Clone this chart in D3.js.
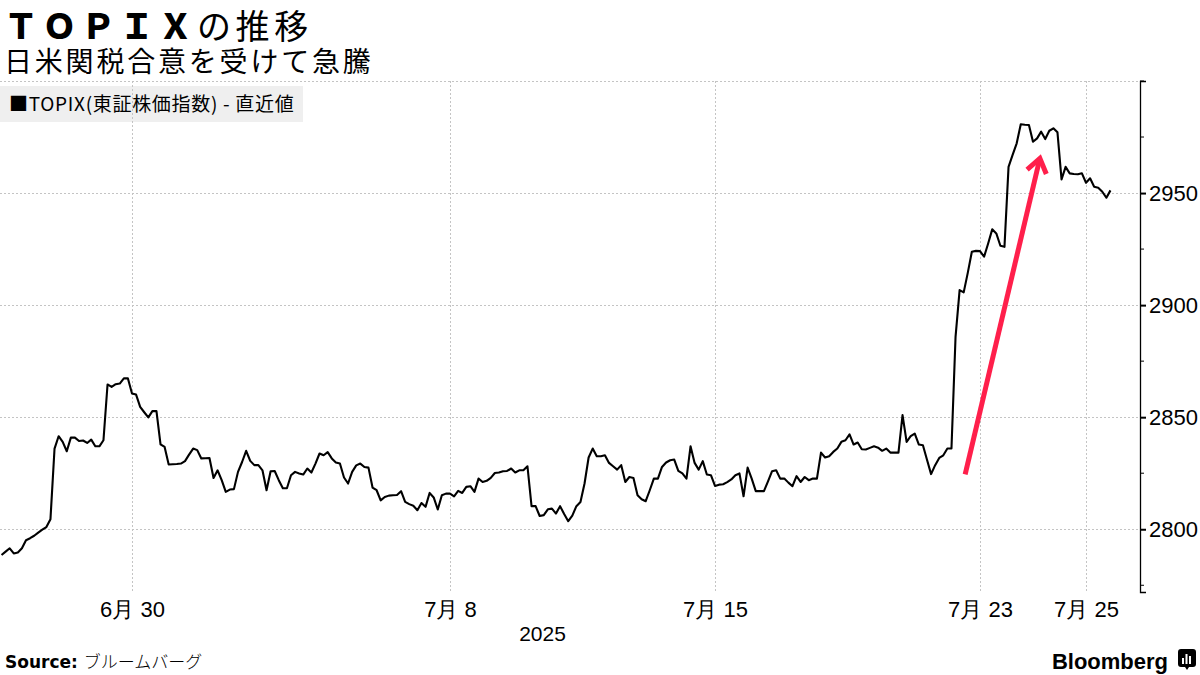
<!DOCTYPE html>
<html><head><meta charset="utf-8">
<script src="https://cdn.jsdelivr.net/npm/d3@7"></script>
<style>
body{margin:0;background:#fff;}
svg{display:block;font-family:"Noto Sans CJK JP","Noto Sans",sans-serif;}
</style>
</head><body><svg id="c" width="1200" height="675"></svg>
<script>
// ---- data ----
const tradingDays = ["6/26","6/27","6/30","7/1","7/2","7/3","7/4","7/7","7/8","7/9","7/10",
                     "7/11","7/14","7/15","7/16","7/17","7/18","7/22","7/23","7/24","7/25"];
const pointsPerDay = 13;
const tickDays   = ["6/30","7/8","7/15","7/23","7/25"];
const tickLabels = ["6月 30","7月 8","7月 15","7月 23","7月 25"];
const yTickValues = [2800,2850,2900,2950];
const yMinorTicks = [2775,2825,2875,2925,2975,3000];
const yearLabel = "2025";
// TOPIX intraday values, one row per trading day
const topix = [
 2788.5,2790,2791.5,2789.2,2789.6,2791.5,2795.1,2796,2797.1,2798.5,2799.8,2801,2804.5,
 2836,2841.5,2839,2834.8,2840.9,2840.9,2839.4,2839.6,2838.5,2840,2837,2837,2839.7,
 2864.6,2863.5,2864.7,2865,2867.3,2867.3,2860.6,2860.1,2854.6,2852.2,2849.9,2852.7,2852.7,
 2837.9,2836.7,2828.9,2829,2829.1,2829.3,2830.4,2833.3,2836,2835.3,2831.6,2831.7,2831.8,
 2822.9,2826.3,2821.9,2816.7,2817.7,2817.9,2825.6,2830,2835,2830.5,2828.6,2828.6,2826.3,
 2817.4,2825.9,2826,2821.9,2818.3,2818.3,2824.1,2825.6,2824.9,2824.4,2827.1,2825.3,2829.3,
 2833.8,2833,2834.4,2831.6,2829.8,2829.3,2823.1,2820.4,2825.6,2828.5,2829.3,2827.8,2827.5,
 2818.6,2817.4,2812.9,2814.4,2815,2815.2,2815.3,2817,2812.2,2811.2,2810.5,2808.5,2811.7,
 2810,2816.2,2814.2,2808.8,2815.2,2815.9,2815.9,2814.7,2817.1,2816.2,2818.9,2819.2,2816.7,
 2822.6,2821.1,2821.6,2822.9,2825.1,2825.3,2825.9,2826,2827.1,2825.3,2826.3,2826.3,2828.1,
 2810.3,2810.3,2805.9,2806.3,2808.9,2809.2,2807,2810.3,2806.8,2803.6,2806.1,2810.3,2812.2,
 2820.4,2832,2836,2832.6,2832.6,2833,2829.6,2828.1,2826.6,2828.6,2821.1,2823.3,2822.9,
 2815.2,2813.4,2812.5,2817.4,2822.6,2822.6,2827.8,2829.8,2830.8,2831.1,2826,2824.9,2822.6,
 2837,2829.6,2826.6,2830.4,2824.4,2824.1,2819.3,2819.9,2820.1,2821,2822.2,2824.1,2824.9,
 2814.7,2827.5,2822.6,2817,2817,2817,2821.4,2825.9,2826.3,2822.6,2822.6,2820.8,2819.2,
 2823.7,2821.1,2823.3,2821.9,2822.6,2822.6,2834.2,2832,2832.6,2834.5,2836,2839,2839.7,
 2842.3,2837.8,2838.7,2835.7,2835.6,2836.3,2837,2836.4,2835,2836,2834.2,2834.2,2834.2,
 2850.9,2839,2841.5,2842.7,2837.8,2837.5,2831,2824.6,2828.6,2831.8,2833,2836,2836,
 2885.8,2906.7,2905.7,2914.4,2923.8,2924.2,2924.1,2921.6,2927.5,2933.8,2932,2926.5,2926,
 2961.7,2967,2972.2,2980.7,2980.5,2980.4,2972.9,2974.4,2977.4,2974.1,2977.8,2978.9,2977.1,
 2956.1,2961.7,2958.8,2958.5,2958.4,2958.8,2954.6,2956.6,2952.8,2952.4,2950.6,2947.9,2951.2
];
// annotation arrow (in trading-day units / index values)
const arrowFrom = [18.22, 2824.5];
const arrowTo   = [19.63, 2965.5];

// ---- layout ----
const svg = d3.select("#c");
const plotTop = 81, plotBottom = 592, axisX = 1140;
const x = d3.scaleLinear().domain([0, tradingDays.length]).range([-0.5, 1112.5]);
const y = d3.scaleLinear().domain([2772, 3000]).range([plotBottom, plotTop]);

// title
const title = svg.append("text").attr("x", 4).attr("y", 39)
  .attr("font-size", 34).attr("letter-spacing", 4.6).attr("fill", "#000");
title.append("tspan").attr("font-weight", 900).text("ＴＯＰＩＸ");
title.append("tspan").attr("font-weight", 400).text("の推移");
svg.append("text").attr("x", 4).attr("y", 72).attr("font-size", 28)
  .attr("letter-spacing", 2.8).attr("fill", "#000").text("日米関税合意を受けて急騰");

// legend background
svg.append("rect").attr("x", 0).attr("y", 86).attr("width", 303).attr("height", 36).attr("fill", "#efefef");

// grid
const grid = svg.append("g").attr("stroke", "#c4c4c4").attr("stroke-width", 1).attr("stroke-dasharray", "2,2");
grid.selectAll("line.h").data(yTickValues.concat([3000])).enter().append("line")
  .attr("x1", 0).attr("x2", axisX).attr("y1", d => Math.round(y(d)) + 0.5).attr("y2", d => Math.round(y(d)) + 0.5);
const tickPos = tickDays.map(d => tradingDays.indexOf(d) + 0.5);
grid.selectAll("line.v").data(tickPos).enter().append("line")
  .attr("x1", d => Math.round(x(d)) + 0.5).attr("x2", d => Math.round(x(d)) + 0.5)
  .attr("y1", plotTop).attr("y2", plotBottom);

// legend text
svg.append("text").attr("x", 9).attr("y", 111).attr("font-size", 19).attr("letter-spacing", 0.7).attr("fill", "#000")
  .text("■TOPIX(東証株価指数) - 直近値");

// line
const line = d3.line()
  .x((d, i) => x((i + 0.5) / pointsPerDay))
  .y(d => y(d));
svg.append("path").datum(topix).attr("d", line)
  .attr("fill", "none").attr("stroke", "#000").attr("stroke-width", 2.1).attr("stroke-linejoin", "round");

// right axis
const yAxis = d3.axisRight(y).tickValues(yTickValues).tickSize(6).tickPadding(3).tickFormat(d3.format("d"));
const ga = svg.append("g").attr("transform", `translate(${axisX},0)`).call(yAxis);
ga.select(".domain").attr("stroke", "#000").attr("stroke-width", 1.3);
ga.selectAll("text").attr("font-size", 22).attr("font-family", "'Liberation Sans', Arial, sans-serif").attr("fill", "#000");
ga.selectAll(".tick line").attr("stroke", "#000").attr("stroke-width", 2);
ga.selectAll("line.minor").data(yMinorTicks).enter().append("line").attr("class", "minor")
  .attr("x1", 0).attr("x2", 4).attr("y1", d => y(d)).attr("y2", d => y(d)).attr("stroke", "#000");

// x axis labels
const xAxis = d3.axisBottom(x).tickValues(tickPos).tickSize(0).tickPadding(9)
  .tickFormat((d, i) => tickLabels[i]);
const gx = svg.append("g").attr("transform", `translate(0,${plotBottom})`).call(xAxis);
gx.select(".domain").remove();
gx.selectAll("text").attr("font-size", 22).attr("fill", "#000");
svg.append("text").attr("x", (x(8.5) + x(13.5)) / 2 - 40).attr("y", 641).attr("text-anchor", "middle")
  .attr("font-size", 21).attr("font-family", "'Liberation Sans', Arial, sans-serif").text(yearLabel);

// arrow annotation
const ax0 = x(arrowFrom[0]), ay0 = y(arrowFrom[1]), ax1 = x(arrowTo[0]), ay1 = y(arrowTo[1]);
const ang = Math.atan2(ay1 - ay0, ax1 - ax0), wing = 17, spread = 0.62;
svg.append("line").attr("x1", ax0).attr("y1", ay0).attr("x2", ax1 - 3 * Math.cos(ang)).attr("y2", ay1 - 3 * Math.sin(ang))
  .attr("stroke", "#ff1f4b").attr("stroke-width", 5);
svg.append("path")
  .attr("d", `M${ax1 - wing * Math.cos(ang - spread)},${ay1 - wing * Math.sin(ang - spread)}L${ax1},${ay1}L${ax1 - wing * Math.cos(ang + spread)},${ay1 - wing * Math.sin(ang + spread)}`)
  .attr("fill", "none").attr("stroke", "#ff1f4b").attr("stroke-width", 5).attr("stroke-linejoin", "miter");

// footer
const src = svg.append("text").attr("x", 5).attr("y", 668).attr("font-size", 17).attr("fill", "#000");
src.append("tspan").attr("font-weight", 700).attr("font-family", "'DejaVu Sans', sans-serif").text("Source: ");
src.append("tspan").attr("font-weight", 300).text("ブルームバーグ");
svg.append("text").attr("x", 1168).attr("y", 669).attr("text-anchor", "end").attr("font-size", 22)
  .attr("font-weight", 700).attr("font-family", "'Liberation Sans', Arial, sans-serif").text("Bloomberg");
const logo = svg.append("g").attr("transform", "translate(1178,649)");
logo.append("path").attr("d", "M3,0H15Q18,0 18,3V15Q18,18 15,18H11L9,21L7,18H3Q0,18 0,15V3Q0,0 3,0Z").attr("fill", "#000");
[[4,9,2,6],[7.5,5,2,10],[11,7,2,8]].forEach(b => logo.append("rect").attr("x", b[0]).attr("y", b[1]).attr("width", b[2]).attr("height", b[3]).attr("fill", "#fff"));
</script>
</body></html>
